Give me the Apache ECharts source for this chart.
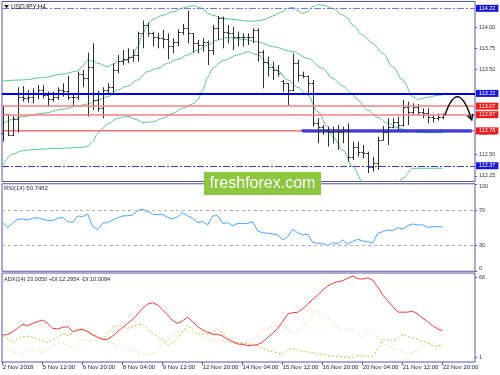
<!DOCTYPE html>
<html><head><meta charset="utf-8">
<script src="https://cdn.jsdelivr.net/npm/echarts@6/dist/echarts.min.js"></script>
<style>html,body{margin:0;padding:0;background:#fff}#c{width:500px;height:375px}</style>
</head><body><div id="c"></div>
<script>
// ---------- DATA ----------
const symbolTitle = 'USDJPY,H4';
const xLabels = ['2 Nov 2018','5 Nov 12:00','6 Nov 20:00','8 Nov 04:00','9 Nov 12:00','12 Nov 20:00','14 Nov 04:00','15 Nov 12:00','16 Nov 20:00','20 Nov 04:00','21 Nov 12:00','22 Nov 20:00'];
const xLabelBars = [0,8,16,24,32,40,48,56,64,72,80,88];

const opens = [112.751,112.975,112.732,112.920,113.182,113.162,113.182,113.221,113.260,113.202,
113.151,113.182,113.260,113.253,113.174,113.174,113.448,113.398,113.535,113.143,
113.045,113.260,113.292,113.495,113.605,113.621,113.652,113.672,113.926,114.024,
113.926,113.879,113.868,113.856,113.777,113.828,113.946,113.985,113.926,113.809,
113.789,113.828,113.730,113.985,114.102,113.946,113.926,113.879,113.887,113.879,
113.887,113.965,113.711,113.593,113.535,113.495,113.370,113.339,113.260,113.574,
113.437,113.425,113.339,112.869,112.830,112.790,112.771,112.783,112.771,112.790,
112.477,112.595,112.536,112.516,112.360,112.399,112.673,112.771,112.830,112.888,
112.849,113.065,113.006,113.065,113.006,112.986,112.947,112.928,112.947];
const highs = [113.084,112.980,112.955,113.292,113.307,113.260,113.280,113.319,113.319,113.241,
113.241,113.292,113.339,113.425,113.213,113.476,113.495,113.699,113.809,113.253,
113.292,113.339,113.574,113.672,113.730,113.750,113.738,113.946,114.075,114.052,
113.946,113.934,113.965,113.926,113.868,113.973,114.036,114.193,113.930,113.848,
113.868,113.840,114.024,114.130,114.122,114.024,114.005,113.946,113.926,113.926,
113.985,113.985,113.730,113.652,113.593,113.554,113.378,113.340,113.691,113.613,
113.476,113.430,113.378,112.928,112.849,112.830,112.830,112.849,112.830,112.869,
112.653,112.653,112.614,112.536,112.477,112.712,112.837,112.928,112.928,112.947,
113.143,113.123,113.104,113.096,113.045,113.045,112.967,112.986,112.986];
const lows = [112.653,112.720,112.720,112.759,113.123,113.112,113.104,113.151,113.162,113.065,
113.123,113.143,113.182,113.143,113.072,113.143,113.292,112.947,113.025,113.006,
112.928,113.202,113.213,113.456,113.554,113.574,113.593,113.593,113.750,113.887,
113.770,113.750,113.750,113.621,113.691,113.770,113.907,113.809,113.699,113.691,
113.711,113.554,113.672,113.848,113.750,113.809,113.730,113.770,113.770,113.789,
113.809,113.593,113.280,113.417,113.378,113.417,113.241,113.084,113.250,113.358,
113.398,113.202,112.830,112.634,112.732,112.595,112.634,112.555,112.634,112.418,
112.438,112.477,112.457,112.281,112.301,112.320,112.670,112.614,112.810,112.790,
112.830,112.849,112.967,112.967,112.928,112.869,112.877,112.900,112.916];
const closes = [112.975,112.732,112.920,113.182,113.162,113.182,113.221,113.260,113.202,113.151,
113.182,113.260,113.253,113.174,113.174,113.448,113.398,113.535,113.143,113.045,
113.260,113.292,113.495,113.605,113.621,113.652,113.672,113.926,114.024,113.926,
113.879,113.868,113.856,113.777,113.828,113.946,113.985,113.926,113.809,113.789,
113.828,113.730,113.985,114.102,113.946,113.926,113.879,113.887,113.879,113.887,
113.965,113.711,113.593,113.535,113.495,113.456,113.339,113.260,113.574,113.437,
113.425,113.339,112.869,112.830,112.790,112.771,112.783,112.771,112.790,112.477,
112.595,112.536,112.516,112.360,112.399,112.673,112.771,112.830,112.888,112.849,
113.065,113.006,113.065,113.006,112.986,112.947,112.928,112.947,112.967];

// Bollinger bands: [bar, price]
const bbUpper = [[0,113.366],[4,113.378],[8,113.405],[12,113.448],[15,113.484],[16,113.542],[17,113.613],[18,113.601],[19,113.574],[21,113.535],[22,113.562],[23,113.593],[25,113.613],[26,113.660],[27,113.770],[28,113.926],[29,114.036],[30,114.091],[32,114.138],[34,114.177],[36,114.224],[38,114.251],[40,114.220],[41,114.161],[42,114.138],[44,114.103],[46,114.091],[48,114.075],[50,114.067],[52,114.083],[54,114.130],[56,114.181],[57,114.220],[58,114.232],[59,114.193],[60,114.161],[61,114.181],[62,114.240],[63,114.259],[64,114.259],[66,114.220],[68,114.142],[69,114.103],[70,114.024],[72,113.907],[74,113.809],[76,113.691],[78,113.535],[80,113.378],[82,113.182],[83,113.151],[85,113.174],[87,113.198],[88,113.202]];
const bbMiddle = [[0,112.869],[4,112.947],[8,112.986],[12,113.033],[15,113.072],[17,113.096],[19,113.143],[21,113.182],[23,113.260],[25,113.307],[27,113.378],[29,113.476],[31,113.515],[33,113.574],[35,113.621],[37,113.672],[39,113.730],[41,113.789],[43,113.848],[45,113.879],[48,113.856],[51,113.828],[54,113.770],[58,113.711],[61,113.633],[64,113.515],[66,113.397],[68,113.307],[70,113.209],[71,113.143],[73,113.025],[75,112.939],[77,112.869],[79,112.818],[81,112.783],[83,112.767],[85,112.759],[88,112.759]];
const bbLower = [[0,112.379],[2,112.508],[4,112.548],[7,112.563],[10,112.571],[13,112.579],[16,112.587],[17,112.602],[18,112.653],[19,112.751],[20,112.810],[21,112.861],[23,112.927],[25,112.951],[27,112.908],[28,112.877],[30,112.888],[32,112.927],[34,112.986],[36,113.045],[38,113.096],[39,113.143],[40,113.260],[41,113.409],[42,113.515],[44,113.605],[47,113.672],[49,113.711],[51,113.672],[53,113.574],[55,113.488],[57,113.378],[59,113.292],[61,113.202],[63,113.006],[65,112.830],[66,112.712],[68,112.555],[70,112.360],[72,112.183],[74,112.046],[76,112.007],[78,112.046],[80,112.222],[82,112.340],[85,112.340],[88,112.340]];

const rsi = [55.5,50.2,54.7,59.4,59.7,58.6,60.5,61.2,59.4,57.9,
57.9,60.5,61.6,56.7,55.9,63.2,62.4,65.4,50.9,48.0,
54.7,55.9,58.6,61.2,63.2,63.5,64.3,69.2,71.1,68.1,
65.4,64.7,64.7,61.6,59.7,62.4,67.0,63.2,60.5,55.5,
56.7,52.9,63.2,63.5,54.7,55.5,51.8,54.7,54.4,54.7,
56.7,46.0,44.0,43.5,42.6,41.5,35.7,39.5,48.0,44.0,
41.4,42.6,33.1,31.9,31.9,29.2,32.7,31.2,35.7,30.8,
33.8,36.5,34.6,33.8,31.9,43.3,45.2,47.1,46.3,49.8,
48.2,52.1,54.0,52.9,52.9,50.2,50.9,50.9,50.7];
const adx = [19.4,20.0,22.2,24.9,28.1,27.0,28.9,30.3,31.6,28.9,
24.9,24.3,25.7,26.2,22.2,23.5,24.1,22.2,19.4,17.6,
15.9,15.9,18.6,22.2,25.7,28.9,32.2,36.5,41.1,44.6,
45.7,43.8,39.8,35.7,31.1,28.9,31.1,33.8,30.3,26.2,
23.5,21.6,20.0,20.0,18.6,15.9,14.0,12.1,11.9,10.8,
11.1,11.6,13.7,17.6,20.8,24.9,30.3,36.5,37.6,37.9,
40.8,44.4,48.4,51.9,56.0,59.3,61.4,62.8,63.6,65.5,
67.4,65.2,64.9,65.8,64.1,58.7,51.9,47.3,42.5,38.1,
37.9,38.1,38.7,36.5,33.0,30.3,27.0,24.3,23.0];
const plusDI = [18.9,16.7,13.5,16.7,18.1,18.6,17.6,15.9,14.8,13.2,
15.4,17.6,20.8,18.9,20.3,24.3,24.1,22.2,20.3,18.1,
15.9,20.3,26.2,27.0,26.2,24.9,26.2,27.6,28.4,24.3,
20.8,18.1,14.8,11.3,12.7,16.7,22.2,27.6,24.1,20.3,
20.3,20.3,22.2,24.3,20.8,17.6,14.0,13.2,12.7,12.1,
11.3,10.8,8.6,6.7,5.9,4.6,4.0,7.3,8.6,7.3,
6.2,5.6,5.1,4.3,3.5,2.9,2.4,2.1,1.8,1.3,
1.0,2.9,2.7,2.1,2.4,7.8,15.4,15.4,14.6,16.5,
19.7,18.1,17.0,15.9,14.6,12.9,10.8,10.0,12.3];
const minusDI = [8.6,7.3,5.9,5.1,4.0,6.7,7.3,5.9,5.4,8.6,
10.5,12.1,13.5,11.3,8.6,13.5,15.4,14.3,15.4,16.2,
15.4,14.0,12.7,11.3,10.0,8.6,7.3,5.9,4.6,3.2,
4.0,7.3,12.1,15.9,20.3,22.2,23.0,23.5,20.8,19.4,
18.1,16.7,15.9,15.9,14.8,13.5,12.7,13.5,13.2,13.5,
15.4,19.4,25.7,24.0,26.8,27.3,26.8,24.0,21.3,23.5,
26.2,30.3,37.0,39.2,35.7,33.8,28.9,26.2,23.5,24.3,
23.0,20.3,18.1,23.5,21.3,18.1,13.2,10.5,8.6,7.3,
5.9,4.6,5.1,6.7,9.4,12.1,12.7,11.3,10.0];

const priceTicks = [112.25,112.50,112.75,113.50,113.75,114.00];
const rsiTicks = [0,30,70,100];
const rsiLevels = [70,30];
const adxTicks = [1,66];
const levelDashTop = 114.22;
const levelBlue = 113.22;
const levelsRed = [113.07,112.97,112.78];
const levelDashBottom = 112.37;
const supportSeg = [[59.8,112.78],[93.8,112.78]];
const arrowPath = [[88.46,112.966],[91.06,113.422],[93.8,112.91]];
const rsiText = 'RSI(14) 50.7462';
const adxText = 'ADX(14) 23.0050 +DI:12.2954 -DI:10.0084';
const watermark = 'freshforex.com';

// ---------- CHART ----------
const BORDER = '#5656a8';
const LBL = '#33334f';
const FONT = 'Liberation Sans, Arial, sans-serif';
const XMIN = -0.14, XMAX = 94.46;
const chart = echarts.init(document.getElementById('c'), null, {renderer:'canvas'});

function gridCfg(top, height){
  return {left:2, width:473, top:top, height:height, show:true, borderColor:BORDER, borderWidth:1,
          backgroundColor:'#fff', containLabel:false, outerBoundsMode:'none'};
}
function xAx(gi, showLabels){
  return {type:'value', gridIndex:gi, min:XMIN, max:XMAX, axisLine:{show:false, onZero:false}, splitLine:{show:false},
    axisTick:{show:showLabels, customValues:xLabelBars, length:3, lineStyle:{color:BORDER}},
    axisLabel:{show:showLabels, customValues:xLabelBars, align:'left', margin:2, fontSize:6, fontFamily:FONT, color:'#22225a',
      formatter:function(v){ const k = xLabelBars.indexOf(Math.round(v)); return k>=0 ? xLabels[k] : ''; }}};
}
function yAx(gi, min, max, ticks, fmt, extra){
  const ax = {type:'value', gridIndex:gi, position:'right', min:min, max:max, scale:true,
    axisLine:{show:false, onZero:false}, splitLine:{show:false},
    axisTick:{show:true, customValues:ticks, length:2, lineStyle:{color:BORDER}},
    axisLabel:{customValues:ticks, formatter:fmt, fontSize:5.5, fontFamily:FONT, color:LBL, margin:4}};
  Object.assign(ax.axisLabel, extra||{});
  return ax;
}

function boxLabel(txt, bg){
  return {show:true, position:'end', formatter:txt, color:'#fff', backgroundColor:bg, padding:[1,3,0,3],
          fontSize:5.5, fontFamily:FONT, distance:1};
}

const ohlc = closes.map((c,i)=>[i, opens[i], highs[i], lows[i], c]);

const option = {
  animation:false,
  backgroundColor:'#fff',
  grid:[gridCfg(1.5,180), gridCfg(183.75,87.5), gridCfg(273,89)],
  xAxis:[xAx(0,false), xAx(1,false), xAx(2,true)],
  yAxis:[
    yAx(0, 112.185, 114.30, priceTicks, v=>v.toFixed(2)),
    yAx(1, 0, 100, rsiTicks, v=>String(v), {verticalAlignMinLabel:'bottom', verticalAlignMaxLabel:'top'}),
    yAx(2, -2.49, 69.82, adxTicks, v=>String(v))
  ],
  series:[
    {type:'line', name:'bbU', xAxisIndex:0, yAxisIndex:0, data:bbUpper, showSymbol:false, smooth:0.35, smoothMonotone:'x',
      lineStyle:{color:'#5cc58d', width:1}, z:2, silent:true},
    {type:'line', name:'bbL', xAxisIndex:0, yAxisIndex:0, data:bbLower, showSymbol:false, smooth:0.35, smoothMonotone:'x',
      lineStyle:{color:'#5cc58d', width:1}, z:2, silent:true},
    {type:'line', name:'level112', xAxisIndex:0, yAxisIndex:0, silent:true, z:3, showSymbol:false,
      data:[[XMIN, levelsRed[2]], [XMAX, levelsRed[2]]],
      itemStyle:{color:'#ee2b2b'}, lineStyle:{color:'#ee2b2b', width:1}},
    {type:'line', name:'bbM', xAxisIndex:0, yAxisIndex:0, data:bbMiddle, showSymbol:false, smooth:0.35, smoothMonotone:'x',
      lineStyle:{color:'#5cc58d', width:1}, z:2, silent:true,
      markLine:{silent:true, symbol:['none','none'], animation:false, precision:2,
        data:[
          {yAxis:levelDashTop, lineStyle:{color:'#7676ee', width:1, type:[7,2,2,2]}, label:boxLabel(levelDashTop.toFixed(2),'#1818d6')},
          {yAxis:levelsRed[0], lineStyle:{color:'#f58080', width:1.5, type:'solid'}, label:boxLabel(levelsRed[0].toFixed(2),'#f01a1a')},
          {yAxis:levelsRed[1], lineStyle:{color:'#f58080', width:1.5, type:'solid'}, label:boxLabel(levelsRed[1].toFixed(2),'#f01a1a')},
          {yAxis:levelsRed[2], lineStyle:{color:'rgba(255,255,255,0)', width:0}, label:boxLabel(levelsRed[2].toFixed(2),'#f01a1a')},
          {yAxis:levelDashBottom, lineStyle:{color:'#3a3ae0', width:1, type:[7,2,2,2]}, label:boxLabel(levelDashBottom.toFixed(2),'#1818d6')},
          {yAxis:levelBlue, lineStyle:{color:'#0000f0', width:2, type:'solid'}, label:boxLabel(levelBlue.toFixed(2),'#1818d6')}
        ]}},
    {type:'line', name:'support', xAxisIndex:0, yAxisIndex:0, data:supportSeg, showSymbol:false, silent:true, z:3,
      itemStyle:{color:'#3c3cdc'},
      lineStyle:{color:'#3c3cdc', width:3, shadowColor:'rgba(0,0,0,0.35)', shadowOffsetY:1, shadowBlur:1}},
    {type:'custom', name:'USDJPY', xAxisIndex:0, yAxisIndex:0, data:ohlc, z:4, silent:true,
      encode:{x:0, y:[1,2,3,4]},
      renderItem:function(params, api){
        const x = api.value(0);
        const o = api.coord([x, api.value(1)]);
        const h = api.coord([x, api.value(2)]);
        const l = api.coord([x, api.value(3)]);
        const c = api.coord([x, api.value(4)]);
        const px = Math.round(h[0]) + 0.5;
        const st = {stroke:'#2e2e2e', lineWidth:1};
        return {type:'group', children:[
          {type:'line', shape:{x1:px, y1:h[1], x2:px, y2:l[1]}, style:st},
          {type:'line', shape:{x1:px-2, y1:Math.round(o[1])+0.5, x2:px, y2:Math.round(o[1])+0.5}, style:st},
          {type:'line', shape:{x1:px, y1:Math.round(c[1])+0.5, x2:px+2, y2:Math.round(c[1])+0.5}, style:st}
        ]};
      }},
    {type:'line', name:'RSI', xAxisIndex:1, yAxisIndex:1, data:rsi.map((v,i)=>[i,v]), showSymbol:false,
      lineStyle:{color:'#4aa2ff', width:1}, silent:true,
      markLine:{silent:true, symbol:['none','none'], label:{show:false}, animation:false,
        lineStyle:{color:'#b4b4b4', width:1, type:[3,3]}, data:rsiLevels.map(v=>({yAxis:v}))}},
    {type:'line', name:'-DI', xAxisIndex:2, yAxisIndex:2, data:minusDI.map((v,i)=>[i,v]), showSymbol:false,
      lineStyle:{color:'#f6d6a4', width:1, type:[2,2]}, silent:true, z:2},
    {type:'line', name:'+DI', xAxisIndex:2, yAxisIndex:2, data:plusDI.map((v,i)=>[i,v]), showSymbol:false,
      lineStyle:{color:'#a6cf3c', width:1, type:[2,2]}, silent:true, z:3},
    {type:'line', name:'ADX', xAxisIndex:2, yAxisIndex:2, data:adx.map((v,i)=>[i,v]), showSymbol:false,
      lineStyle:{color:'#f03a3a', width:1}, silent:true, z:4}
  ]
};
chart.setOption(option);

// annotation graphics (arrow positioned through the chart's own coordinate conversion)
const ap = arrowPath.map(d => chart.convertToPixel({gridIndex:0}, d));
const dx = ap[2][0]-ap[1][0], dy = ap[2][1]-ap[1][1];
const len = Math.sqrt(dx*dx+dy*dy), ux = dx/len, uy = dy/len;
function rot(a){ const c=Math.cos(a), s=Math.sin(a); return [-(ux*c - uy*s)*6, -(ux*s + uy*c)*6]; }
const h1 = rot(0.5), h2 = rot(-0.5);
const tip = ap[2];

chart.setOption({graphic:[
  {type:'bezierCurve', z:100, shape:{x1:ap[0][0], y1:ap[0][1], cpx1:ap[1][0], cpy1:ap[1][1], x2:tip[0], y2:tip[1]},
    style:{stroke:'#111', lineWidth:1.5, fill:null}},
  {type:'polyline', z:100, shape:{points:[[tip[0]+h1[0], tip[1]+h1[1]],[tip[0],tip[1]],[tip[0]+h2[0], tip[1]+h2[1]]]},
    style:{stroke:'#111', lineWidth:1.5, fill:null}},
  {type:'polygon', z:100, shape:{points:[[4,5],[9,5],[6.5,8.5]]}, style:{fill:'#222'}},
  {type:'text', z:100, x:11, y:7, style:{text:symbolTitle, font:'6.5px '+FONT, fill:'#222', verticalAlign:'middle'}},
  {type:'text', z:100, x:4, y:188, style:{text:rsiText, font:'6px '+FONT, fill:'#2a2a4a', verticalAlign:'middle'}},
  {type:'text', z:100, x:4, y:279, style:{text:adxText, font:'5.6px '+FONT, fill:'#2a2a4a', verticalAlign:'middle'}},
  {type:'rect', z:90, shape:{x:204, y:172, width:117, height:23}, style:{fill:'#8dc63f'}},
  {type:'text', z:91, x:262.5, y:184, style:{text:watermark, font:'16px '+FONT, fill:'#ffffff', align:'center', verticalAlign:'middle'}}
]});
</script>
</body></html>
